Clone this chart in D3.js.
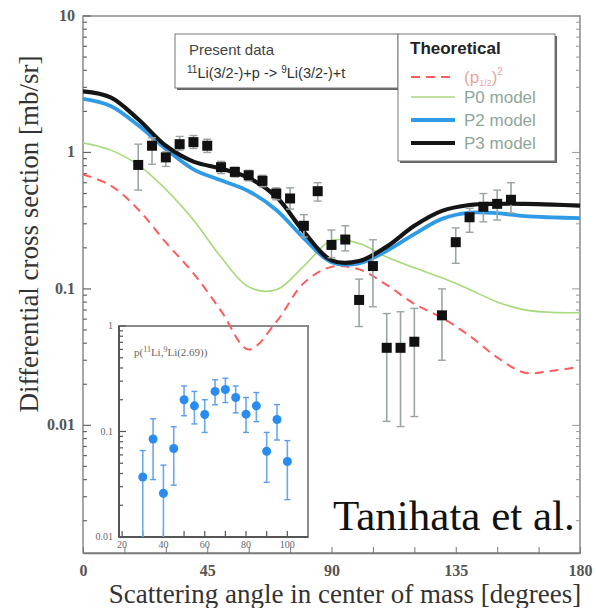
<!DOCTYPE html>
<html>
<head>
<meta charset="utf-8">
<script src="https://cdn.jsdelivr.net/npm/d3@7"></script>
<style>
  body { margin: 0; background: #fff; }
  svg { display: block; }
</style>
</head>
<body>
<div id="chart"></div>
<script>
// ---------------------------------------------------------------------------
// data
// ---------------------------------------------------------------------------

// measured 11Li(p,t) cross section (black squares)
var dataAngle = [20, 25, 30, 35, 40, 45, 50, 55, 60, 65, 70, 75, 80, 85, 90,
                 95, 100, 105, 110, 115, 120, 130, 135, 140, 145, 150, 155];
var dataValue = [0.81, 1.12, 0.92, 1.15, 1.19, 1.12, 0.78, 0.72, 0.68, 0.62,
                 0.50, 0.46, 0.29, 0.52, 0.21, 0.23, 0.083, 0.147, 0.037,
                 0.037, 0.041, 0.064, 0.22, 0.335, 0.40, 0.42, 0.45];
var dataHigh  = [1.15, 1.28, 1.01, 1.31, 1.33, 1.25, 0.86, 0.78, 0.74, 0.68,
                 0.55, 0.55, 0.35, 0.60, 0.27, 0.29, 0.118, 0.229, 0.066,
                 0.068, 0.072, 0.10, 0.28, 0.39, 0.50, 0.53, 0.60];
var dataLow   = [0.53, 0.82, 0.79, 1.04, 1.07, 1.00, 0.70, 0.66, 0.62, 0.56,
                 0.45, 0.385, 0.24, 0.44, 0.169, 0.19, 0.053, 0.074, 0.0107,
                 0.0098, 0.0116, 0.030, 0.154, 0.26, 0.31, 0.32, 0.36];

// theoretical curves, sampled every 10 degrees
var curveAngle = [0, 10, 20, 30, 40, 50, 60, 70, 80, 90,
                  100, 110, 120, 130, 140, 150, 160, 170, 180];
var p3Model = [2.80, 2.53, 1.75, 1.12, 0.857, 0.762, 0.652, 0.473, 0.262,
               0.162, 0.160, 0.204, 0.290, 0.373, 0.412, 0.420, 0.420, 0.415,
               0.407];
var p2Model = [2.47, 2.19, 1.58, 1.06, 0.752, 0.625, 0.520, 0.379, 0.235,
               0.157, 0.154, 0.190, 0.252, 0.326, 0.362, 0.359, 0.341, 0.334,
               0.330];
var p0Model = [1.175, 1.04, 0.81, 0.536, 0.32, 0.171, 0.1035, 0.0984, 0.147,
               0.226, 0.215, 0.171, 0.1426, 0.1205, 0.0991, 0.0803, 0.0702,
               0.0673, 0.067];
var pHalfSq = [0.691, 0.573, 0.382, 0.219, 0.130, 0.069, 0.036, 0.0573,
               0.1107, 0.145, 0.139, 0.107, 0.0776, 0.0614, 0.0453, 0.0315,
               0.0243, 0.0251, 0.0269];

// inset: p(11Li, 9Li(2.69))
var insetAngle = [30, 35, 40, 45, 50, 55, 60, 65, 70, 75, 80, 85, 90, 95, 100];
var insetValue = [0.037, 0.085, 0.026, 0.069, 0.20, 0.175, 0.145, 0.24, 0.25,
                  0.21, 0.146, 0.175, 0.065, 0.13, 0.052];
var insetHigh  = [0.066, 0.132, 0.048, 0.111, 0.27, 0.24, 0.20, 0.31, 0.32,
                  0.27, 0.21, 0.234, 0.098, 0.18, 0.082];
var insetLow   = [0.008, 0.035, 0.008, 0.031, 0.141, 0.118, 0.098, 0.179,
                  0.188, 0.15, 0.098, 0.124, 0.033, 0.083, 0.0226];

var xTickLabels = [0, 45, 90, 135, 180];
var yTickLabels = [10, 1, 0.1, 0.01];
var insetXTicks = [20, 40, 60, 80, 100];
var insetYLabels = [1, 0.1, 0.01];

// ---------------------------------------------------------------------------
// layout
// ---------------------------------------------------------------------------
var W = 596, H = 608;
var plot = { left: 83, right: 580, top: 16, bottom: 553 };
var inset = { left: 119, right: 308, top: 326, bottom: 537 };

var x = d3.scaleLinear().domain([0, 180]).range([plot.left, plot.right]);
var y = d3.scaleLog().domain([0.00116, 10]).range([plot.bottom, plot.top]);

var xi = d3.scaleLinear().domain([18.5, 110]).range([inset.left, inset.right]);
var yi = d3.scaleLog().domain([0.01, 1]).range([inset.bottom, inset.top]);

var serif = "'Liberation Serif', 'DejaVu Serif', serif";
var sans = "'Liberation Sans', Arial, sans-serif";

var svg = d3.select("#chart").append("svg")
  .attr("width", W).attr("height", H);

// log ticks (major + minor) inside a domain
function logTicks(lo, hi) {
  var out = [];
  for (var e = -4; e <= 1; e++) {
    for (var m = 1; m <= 9; m++) {
      var v = +(m * Math.pow(10, e)).toPrecision(3);
      if (v >= lo * 0.999 && v <= hi * 1.001) out.push({ v: v, major: m === 1 });
    }
  }
  return out;
}

// ---------------------------------------------------------------------------
// main frame and axes
// ---------------------------------------------------------------------------
var frame = svg.append("g");
frame.append("rect")
  .attr("x", plot.left).attr("y", plot.top)
  .attr("width", plot.right - plot.left).attr("height", plot.bottom - plot.top)
  .attr("fill", "#fff").attr("stroke", "#8a8a8a").attr("stroke-width", 1.5);

var yt = logTicks(y.domain()[0], y.domain()[1]);
frame.selectAll("line.yl").data(yt).enter().append("line")
  .attr("x1", plot.left).attr("x2", function(d) { return plot.left + (d.major ? 8 : 4); })
  .attr("y1", function(d) { return y(d.v); }).attr("y2", function(d) { return y(d.v); })
  .attr("stroke", "#666").attr("stroke-width", 1.2);
frame.selectAll("line.yr").data(yt).enter().append("line")
  .attr("x1", plot.right).attr("x2", function(d) { return plot.right - (d.major ? 8 : 4); })
  .attr("y1", function(d) { return y(d.v); }).attr("y2", function(d) { return y(d.v); })
  .attr("stroke", "#999").attr("stroke-width", 1);

frame.selectAll("text.yt").data(yTickLabels).enter().append("text")
  .attr("x", plot.left - 8).attr("y", function(d) { return y(d) + 5; })
  .attr("text-anchor", "end")
  .attr("font-family", serif).attr("font-size", 16).attr("font-weight", "bold")
  .attr("fill", "#555")
  .text(function(d) { return d; });

var xAxis = d3.axisBottom(x)
  .tickValues(d3.range(0, 181, 15))
  .tickSizeInner(-6).tickSizeOuter(0).tickPadding(12)
  .tickFormat(function(d) { return xTickLabels.indexOf(d) >= 0 ? d : ""; });
var xAxisG = svg.append("g")
  .attr("transform", "translate(0," + plot.bottom + ")")
  .call(xAxis);
xAxisG.select(".domain").attr("stroke", "#777").attr("stroke-width", 1.5);
xAxisG.selectAll(".tick line").attr("stroke", "#777");
xAxisG.selectAll(".tick text")
  .attr("font-family", serif).attr("font-size", 16).attr("font-weight", "bold")
  .attr("fill", "#555");

// axis titles
svg.append("text")
  .attr("transform", "translate(38,234) rotate(-90)")
  .attr("text-anchor", "middle")
  .attr("font-family", serif).attr("font-size", 27).attr("fill", "#333")
  .text("Differential cross section [mb/sr]");
svg.append("text")
  .attr("x", 345).attr("y", 603)
  .attr("text-anchor", "middle")
  .attr("font-family", serif).attr("font-size", 27).attr("fill", "#333")
  .text("Scattering angle in center of mass [degrees]");

// ---------------------------------------------------------------------------
// inset (drawn under the theory curves, the dashed curve crosses it)
// ---------------------------------------------------------------------------
var ins = svg.append("g");
ins.append("rect")
  .attr("x", inset.left).attr("y", inset.top)
  .attr("width", inset.right - inset.left).attr("height", inset.bottom - inset.top)
  .attr("fill", "#fff").attr("stroke", "#8a8a8a").attr("stroke-width", 2);
ins.append("line").attr("x1", inset.left).attr("x2", inset.left)
  .attr("y1", inset.top).attr("y2", inset.bottom).attr("stroke", "#555").attr("stroke-width", 2);
ins.append("line").attr("x1", inset.left).attr("x2", inset.right)
  .attr("y1", inset.bottom).attr("y2", inset.bottom).attr("stroke", "#555").attr("stroke-width", 2);

var it = logTicks(0.01, 1);
ins.selectAll("line.iy").data(it).enter().append("line")
  .attr("x1", inset.left).attr("x2", function(d) { return inset.left + (d.major ? 7 : 4); })
  .attr("y1", function(d) { return yi(d.v); }).attr("y2", function(d) { return yi(d.v); })
  .attr("stroke", "#555").attr("stroke-width", 1.2);
ins.selectAll("text.iy").data(insetYLabels).enter().append("text")
  .attr("x", inset.left - 6).attr("y", function(d) { return yi(d) + 3; })
  .attr("text-anchor", "end")
  .attr("font-family", serif).attr("font-size", 10).attr("fill", "#666")
  .text(function(d) { return d; });

ins.selectAll("line.ix").data(d3.range(20, 101, 10)).enter().append("line")
  .attr("x1", function(d) { return xi(d); }).attr("x2", function(d) { return xi(d); })
  .attr("y1", inset.bottom).attr("y2", inset.bottom - 6)
  .attr("stroke", "#555").attr("stroke-width", 1.2);
ins.selectAll("text.ix").data(insetXTicks).enter().append("text")
  .attr("x", function(d) { return xi(d); }).attr("y", inset.bottom + 11)
  .attr("text-anchor", "middle")
  .attr("font-family", serif).attr("font-size", 10).attr("fill", "#666")
  .text(function(d) { return d; });

var title = ins.append("text").attr("x", 134).attr("y", 356)
  .attr("font-family", serif).attr("font-size", 11).attr("fill", "#666");
title.append("tspan").text("p(");
title.append("tspan").attr("font-size", 8).attr("dy", -4).text("11");
title.append("tspan").attr("dy", 4).text("Li,");
title.append("tspan").attr("font-size", 8).attr("dy", -4).text("9");
title.append("tspan").attr("dy", 4).text("Li(2.69))");

var ipts = d3.zip(insetAngle, insetValue, insetHigh, insetLow);
function clampI(v) { return Math.min(yi(Math.max(v, 0.01)), inset.bottom); }
ins.selectAll("line.ie").data(ipts).enter().append("line")
  .attr("x1", function(d) { return xi(d[0]); }).attr("x2", function(d) { return xi(d[0]); })
  .attr("y1", function(d) { return clampI(d[2]); }).attr("y2", function(d) { return clampI(d[3]); })
  .attr("stroke", "#6aa8f0").attr("stroke-width", 1.6);
[2, 3].forEach(function(k) {
  ins.selectAll("line.ic" + k).data(ipts.filter(function(d) { return d[k] > 0.01; }))
    .enter().append("line")
    .attr("x1", function(d) { return xi(d[0]) - 3; }).attr("x2", function(d) { return xi(d[0]) + 3; })
    .attr("y1", function(d) { return yi(d[k]); }).attr("y2", function(d) { return yi(d[k]); })
    .attr("stroke", "#5a9cf0").attr("stroke-width", 1.4);
});
ins.selectAll("circle").data(ipts).enter().append("circle")
  .attr("cx", function(d) { return xi(d[0]); })
  .attr("cy", function(d) { return yi(d[1]); })
  .attr("r", 4.5)
  .attr("fill", "#2a8cf0");

// ---------------------------------------------------------------------------
// theory curves
// ---------------------------------------------------------------------------
var clipId = "plotClip";
svg.append("clipPath").attr("id", clipId).append("rect")
  .attr("x", plot.left).attr("y", plot.top)
  .attr("width", plot.right - plot.left).attr("height", plot.bottom - plot.top);

var line = d3.line()
  .x(function(d) { return x(d[0]); })
  .y(function(d) { return y(d[1]); })
  .curve(d3.curveCatmullRom.alpha(0.5));

var curves = [
  { values: pHalfSq, color: "#ff5c5c", width: 2,   dash: "9,6" },
  { values: p0Model, color: "#a8d97c", width: 1.6, dash: null },
  { values: p2Model, color: "#2f9be6", width: 3.8, dash: null },
  { values: p3Model, color: "#151515", width: 4.2, dash: null }
];
var curveG = svg.append("g").attr("clip-path", "url(#" + clipId + ")");
curves.forEach(function(c) {
  curveG.append("path")
    .datum(d3.zip(curveAngle, c.values))
    .attr("d", line)
    .attr("fill", "none")
    .attr("stroke", c.color)
    .attr("stroke-width", c.width)
    .attr("stroke-dasharray", c.dash);
});

// ---------------------------------------------------------------------------
// measured points
// ---------------------------------------------------------------------------
var pts = d3.zip(dataAngle, dataValue, dataHigh, dataLow);
var ptsG = svg.append("g");
ptsG.selectAll("line.err").data(pts).enter().append("line")
  .attr("x1", function(d) { return x(d[0]); }).attr("x2", function(d) { return x(d[0]); })
  .attr("y1", function(d) { return y(d[2]); }).attr("y2", function(d) { return y(d[3]); })
  .attr("stroke", "#9aa5a2").attr("stroke-width", 1.6);
[2, 3].forEach(function(k) {
  ptsG.selectAll("line.cap" + k).data(pts).enter().append("line")
    .attr("x1", function(d) { return x(d[0]) - 4; }).attr("x2", function(d) { return x(d[0]) + 4; })
    .attr("y1", function(d) { return y(d[k]); }).attr("y2", function(d) { return y(d[k]); })
    .attr("stroke", "#9aa5a2").attr("stroke-width", 1.4);
});
ptsG.selectAll("rect").data(pts).enter().append("rect")
  .attr("x", function(d) { return x(d[0]) - 5; })
  .attr("y", function(d) { return y(d[1]) - 5; })
  .attr("width", 10).attr("height", 10)
  .attr("fill", "#111");

// ---------------------------------------------------------------------------
// legends
// ---------------------------------------------------------------------------
function box(x0, y0, w, h) {
  svg.append("rect").attr("x", x0 + 2).attr("y", y0 + 2).attr("width", w).attr("height", h)
    .attr("fill", "#666");
  svg.append("rect").attr("x", x0).attr("y", y0).attr("width", w).attr("height", h)
    .attr("fill", "#fff").attr("stroke", "#777").attr("stroke-width", 1);
}
box(175, 34, 223, 54);
box(398, 34, 157, 127);

svg.append("text").attr("x", 189).attr("y", 55)
  .attr("font-family", sans).attr("font-size", 15).attr("fill", "#444")
  .text("Present data");
var reac = svg.append("text").attr("x", 187).attr("y", 78)
  .attr("font-family", sans).attr("font-size", 14.5).attr("fill", "#333");
reac.append("tspan").attr("font-size", 10).attr("dy", -5).text("11");
reac.append("tspan").attr("dy", 5).text("Li(3/2-)+p -> ");
reac.append("tspan").attr("font-size", 10).attr("dy", -5).text("9");
reac.append("tspan").attr("dy", 5).text("Li(3/2-)+t");

svg.append("text").attr("x", 410).attr("y", 54)
  .attr("font-family", sans).attr("font-size", 17).attr("font-weight", "bold")
  .attr("fill", "#222").text("Theoretical");

var legendRows = [
  { color: "#ff5c5c", width: 2,   dash: "9,6", y: 77 },
  { color: "#a8d97c", width: 1.6, dash: null,  y: 97 },
  { color: "#2f9be6", width: 3.8, dash: null,  y: 120 },
  { color: "#151515", width: 4.2, dash: null,  y: 143 }
];
legendRows.forEach(function(r, i) {
  svg.append("line").attr("x1", 411).attr("x2", 455).attr("y1", r.y).attr("y2", r.y)
    .attr("stroke", r.color).attr("stroke-width", r.width).attr("stroke-dasharray", r.dash);
  var t = svg.append("text").attr("x", 464).attr("y", r.y + 6)
    .attr("font-family", sans).attr("font-size", 17)
    .attr("fill", i === 0 ? "#eaa4a4" : "#8ea69a");
  if (i === 0) {
    t.append("tspan").text("(p");
    t.append("tspan").attr("font-size", 9).attr("dy", 3).text("1/2");
    t.append("tspan").attr("dy", -3).text(")");
    t.append("tspan").attr("font-size", 10).attr("dy", -8).text("2");
  } else {
    t.text(["", "P0 model", "P2 model", "P3 model"][i]);
  }
});

// credit
svg.append("text").attr("x", 333).attr("y", 530)
  .attr("font-family", serif).attr("font-size", 43).attr("fill", "#111")
  .text("Tanihata et al.");
</script>
</body>
</html>
